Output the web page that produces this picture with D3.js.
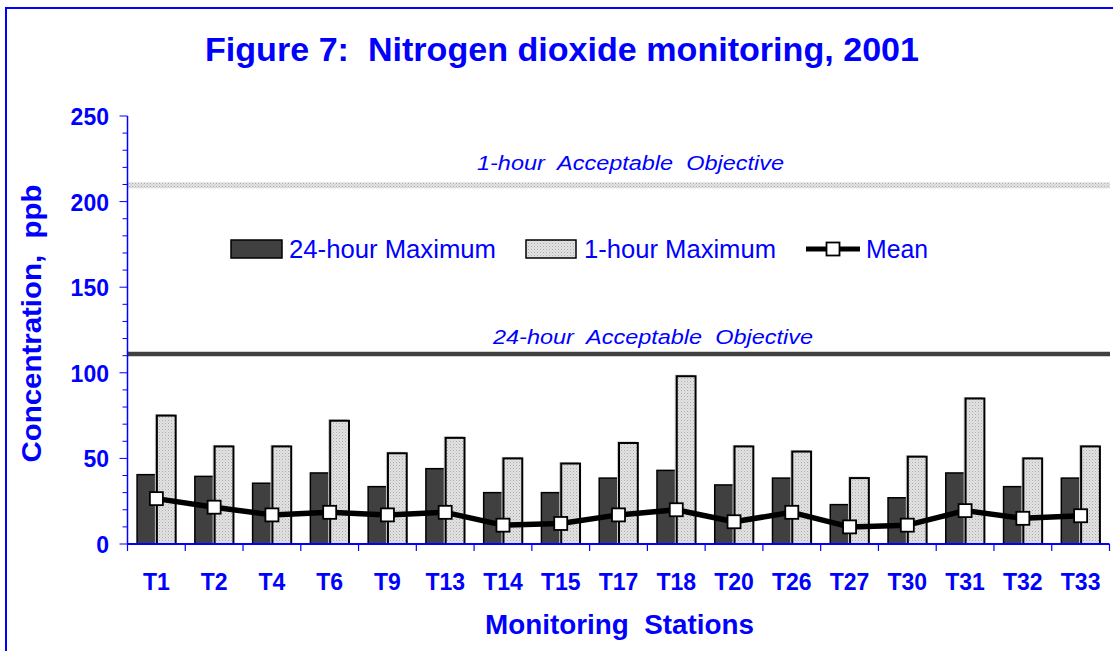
<!DOCTYPE html>
<html>
<head>
<meta charset="utf-8">
<script src="https://cdn.jsdelivr.net/npm/d3@7"></script>
<style>
	body { margin: 0; background: #fff; }
	text { font-family: Arial, "Liberation Sans", sans-serif; fill: #0000ff; white-space: pre; }
</style>
</head>
<body>
<svg id="chart" width="1113" height="651"></svg>
<script>
const stations = ["T1", "T2", "T4", "T6", "T9", "T13", "T14", "T15", "T17", "T18", "T20", "T26", "T27", "T30", "T31", "T32", "T33"];
const max24Hour = [40.5, 39.5, 35.5, 41.5, 33.5, 44, 30, 30, 38.5, 43, 34.5, 38.5, 23, 27, 41.5, 33.5, 38.5];
const max1Hour = [75, 57, 57, 72, 53, 62, 50, 47, 59, 98, 57, 54, 38.5, 51, 85, 50, 57];
const meanValues = [26.5, 21.5, 17, 18.5, 17, 18.5, 11, 12, 17, 20, 13, 18.5, 10, 11, 19.5, 15, 16.5];
const objectives = [
	{ label: "1-hour  Acceptable  Objective", value: 209.5 },
	{ label: "24-hour  Acceptable  Objective", value: 111 },
];
const legendItems = ["24-hour Maximum", "1-hour Maximum", "Mean"];
const yTicks = [0, 50, 100, 150, 200, 250];

const blue = "#0000ff";
const svg = d3.select("#chart");
const left = 127.5;
const right = 1109.5;

const x = d3.scaleBand().domain(stations).range([left, right]);
const y = d3.scaleLinear().domain([0, 250]).range([544, 116]);
const barWidth = 19.3;

// frame round the figure (only left and top edges are in view)
svg.append("path").attr("d", "M6,651V8H1113").attr("fill", "none").attr("stroke", blue).attr("stroke-width", 2);

const defs = svg.append("defs");
const dots = defs.append("pattern").attr("id", "dots").attr("width", 3).attr("height", 3).attr("patternUnits", "userSpaceOnUse");
dots.append("rect").attr("width", 3).attr("height", 3).attr("fill", "#e2e2e2");
dots.append("rect").attr("width", 1).attr("height", 1).attr("fill", "#acacac");
dots.append("rect").attr("x", 1.5).attr("y", 1.5).attr("width", 1).attr("height", 1).attr("fill", "#c4c4c4");

svg.append("text")
	.attr("x", 205)
	.attr("y", 61)
	.attr("font-size", 33.5)
	.attr("font-weight", "bold")
	.attr("textLength", 714)
	.attr("lengthAdjust", "spacingAndGlyphs")
	.text("Figure 7:  Nitrogen dioxide monitoring, 2001");

// objective lines
const obj = svg.append("g");
obj.append("rect")
	.attr("x", left)
	.attr("y", y(objectives[0].value) - 3)
	.attr("width", 1110 - left)
	.attr("height", 6)
	.attr("fill", "url(#dots)");
obj.append("line")
	.attr("x1", left)
	.attr("x2", 1110)
	.attr("y1", y(objectives[1].value))
	.attr("y2", y(objectives[1].value))
	.attr("stroke", "#404040")
	.attr("stroke-width", 4.5);
obj.append("text")
	.attr("x", 477)
	.attr("y", 170)
	.attr("font-size", 20.5)
	.attr("font-style", "italic")
	.attr("textLength", 307)
	.attr("lengthAdjust", "spacingAndGlyphs")
	.text(objectives[0].label);
obj.append("text")
	.attr("x", 493)
	.attr("y", 344)
	.attr("font-size", 20.5)
	.attr("font-style", "italic")
	.attr("textLength", 320)
	.attr("lengthAdjust", "spacingAndGlyphs")
	.text(objectives[1].label);

// bars
const bars = svg.append("g");
bars.selectAll(".dark")
	.data(stations)
	.join("rect")
	.attr("x", (d) => x(d) + x.bandwidth() / 2 - barWidth)
	.attr("y", (d, i) => y(max24Hour[i]))
	.attr("width", barWidth)
	.attr("height", (d, i) => y(0) - y(max24Hour[i]))
	.attr("fill", "#404040")
	.attr("stroke", "#000")
	.attr("stroke-width", 1.5);
bars.selectAll(".light-shadow")
	.data(stations)
	.join("rect")
	.attr("x", (d) => x(d) + x.bandwidth() / 2 - 1.5)
	.attr("y", (d, i) => y(max1Hour[i]) - 1.5)
	.attr("width", barWidth)
	.attr("height", (d, i) => y(0) - y(max1Hour[i]) + 1.5)
	.attr("fill", "#c8c8c8");
bars.selectAll(".light")
	.data(stations)
	.join("rect")
	.attr("x", (d) => x(d) + x.bandwidth() / 2 + 0.5)
	.attr("y", (d, i) => y(max1Hour[i]))
	.attr("width", barWidth - 0.5)
	.attr("height", (d, i) => y(0) - y(max1Hour[i]))
	.attr("fill", "url(#dots)")
	.attr("stroke", "#000")
	.attr("stroke-width", 2);

// mean line
const line = d3.line().x((d, i) => x(stations[i]) + x.bandwidth() / 2).y((d) => y(d));
svg.append("path").attr("d", line(meanValues)).attr("fill", "none").attr("stroke", "#000").attr("stroke-width", 5.5).attr("stroke-linejoin", "round");
svg.append("g")
	.selectAll("rect")
	.data(meanValues)
	.join("rect")
	.attr("x", (d, i) => x(stations[i]) + x.bandwidth() / 2 - 6.5)
	.attr("y", (d) => y(d) - 6.5)
	.attr("width", 13)
	.attr("height", 13)
	.attr("fill", "#fff")
	.attr("stroke", "#000")
	.attr("stroke-width", 1.8);

// y axis
const yAxis = svg.append("g");
yAxis.append("line").attr("x1", left).attr("x2", left).attr("y1", y(250)).attr("y2", y(0)).attr("stroke", blue).attr("stroke-width", 1.5);
yAxis.selectAll(".minor")
	.data(d3.range(0, 251, 10))
	.join("line")
	.attr("x1", (d) => left - (d % 50 === 0 ? 8 : 5))
	.attr("x2", left)
	.attr("y1", (d) => y(d))
	.attr("y2", (d) => y(d))
	.attr("stroke", blue)
	.attr("stroke-width", 1);
yAxis.selectAll("text")
	.data(yTicks)
	.join("text")
	.attr("x", 109)
	.attr("y", (d) => y(d) + 8.5)
	.attr("text-anchor", "end")
	.attr("font-size", 23)
	.attr("font-weight", "bold")
	.attr("transform", (d) => `translate(0,${-0.05 * y(d)}) scale(1,1.05)`)
	.text((d) => d);

// x axis
const xAxis = svg.append("g");
xAxis.append("line").attr("x1", left).attr("x2", right).attr("y1", y(0)).attr("y2", y(0)).attr("stroke", blue).attr("stroke-width", 2);
xAxis.selectAll(".tick")
	.data(stations.map((d) => x(d)).concat([right]))
	.join("line")
	.attr("x1", (d) => d)
	.attr("x2", (d) => d)
	.attr("y1", y(0))
	.attr("y2", y(0) + 7)
	.attr("stroke", blue)
	.attr("stroke-width", 1.2);
xAxis.selectAll("text")
	.data(stations)
	.join("text")
	.attr("x", (d) => x(d) + x.bandwidth() / 2)
	.attr("y", 590)
	.attr("text-anchor", "middle")
	.attr("font-size", 23)
	.attr("font-weight", "bold")
	.text((d) => d);

svg.append("text")
	.attr("x", 485)
	.attr("y", 634)
	.attr("font-size", 27)
	.attr("font-weight", "bold")
	.attr("textLength", 269)
	.attr("lengthAdjust", "spacingAndGlyphs")
	.text("Monitoring  Stations");
svg.append("text")
	.attr("transform", "translate(41,323.5) rotate(-90)")
	.attr("text-anchor", "middle")
	.attr("font-size", 28)
	.attr("font-weight", "bold")
	.attr("textLength", 278)
	.attr("lengthAdjust", "spacingAndGlyphs")
	.text("Concentration,  ppb");

// legend
const legend = svg.append("g");
legend.append("rect").attr("x", 231).attr("y", 240).attr("width", 51).attr("height", 18).attr("fill", "#404040").attr("stroke", "#000").attr("stroke-width", 1.5);
legend.append("rect").attr("x", 526).attr("y", 240).attr("width", 50).attr("height", 18).attr("fill", "url(#dots)").attr("stroke", "#000").attr("stroke-width", 1.5);
legend.append("line").attr("x1", 806).attr("x2", 860).attr("y1", 249).attr("y2", 249).attr("stroke", "#000").attr("stroke-width", 5);
legend.append("rect").attr("x", 826.5).attr("y", 242.5).attr("width", 13).attr("height", 13).attr("fill", "#fff").attr("stroke", "#000").attr("stroke-width", 1.8);
const legendText = [
	{ x: 289, w: 207 },
	{ x: 584, w: 192 },
	{ x: 866, w: 62 },
];
legend.selectAll("text")
	.data(legendItems)
	.join("text")
	.attr("x", (d, i) => legendText[i].x)
	.attr("y", 258)
	.attr("font-size", 25)
	.attr("textLength", (d, i) => legendText[i].w)
	.attr("lengthAdjust", "spacingAndGlyphs")
	.text((d) => d);
</script>
</body>
</html>
